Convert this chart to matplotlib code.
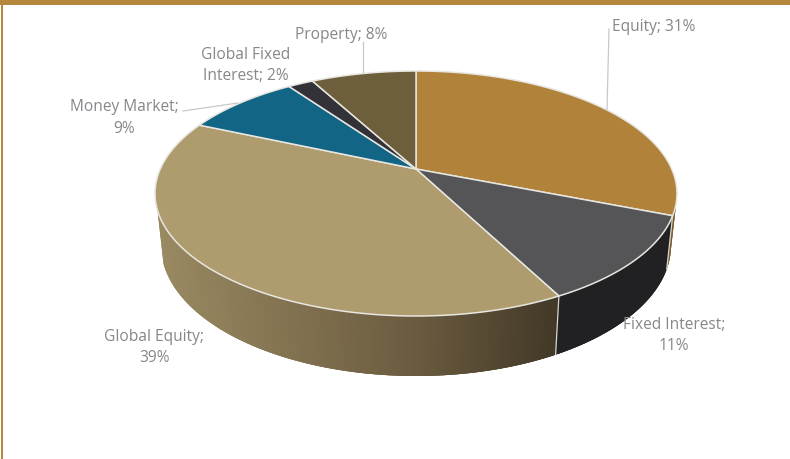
import numpy as np
import matplotlib
matplotlib.use("Agg")
import matplotlib.pyplot as plt
from matplotlib.collections import PolyCollection
from matplotlib.colors import to_rgb

# data (unrounded shares, the labels show them rounded)
categories = ["Equity", "Fixed Interest", "Global Equity", "Money Market", "Global Fixed Interest", "Property"]
shares = [31, 11.4, 39.2, 8.6, 1.9, 7.9]
top_colors = ["#b0823a", "#555557", "#ae9b6e", "#126585", "#333238", "#6e5f3c"]

# drawn labels, line breaks as in the chart
label_texts = ["Equity; 31%", "Fixed Interest;\n11%", "Global Equity;\n39%",
               "Money Market;\n9%", "Global Fixed\nInterest; 2%", "Property; 8%"]

plt.rcParams["font.family"] = ["Open Sans", "DejaVu Sans"]

fig = plt.figure(figsize=(7.9, 4.59), dpi=100)
ax = fig.add_axes([0, 0, 1, 1])
ax.set_xlim(0, 790)
ax.set_ylim(459, 0)
ax.axis("off")

# perspective of the disc: pixel position of an angle (clockwise from the top)
CX, CY = 416, 169
K = 0.2
A, B = 255.7, 117.6


def project(frac_angle, r=1.0):
    X = r * np.sin(frac_angle)
    Y = r * np.cos(frac_angle)
    w = 1 + K * Y
    return CX + A * X / w, CY - B * Y / w


def lower_rim(x, y):
    # same outline, pushed down for the bottom of the pie
    return CX + 0.977 * (x - CX), 219.3 + 1.066 * (y - CY)


edges = np.cumsum([0] + shares) / sum(shares) * 2 * np.pi


def side_color(i, x):
    if i == 0:
        return to_rgb("#7a5a2a")
    if i == 1:
        return to_rgb("#212123")
    # global equity wall fades from left to right
    left = np.array(to_rgb("#9a8a62"))
    mid = np.array(to_rgb("#6b5c40"))
    right = np.array(to_rgb("#433927"))
    if x < 416:
        return tuple(left + (mid - left) * (x - 157) / (416 - 157))
    return tuple(mid + (right - mid) * (x - 416) / (558 - 416))


# side wall, drawn from the left corner to the right corner.
# every strip runs a bit under the next one so no seams show up
side_start = np.radians(106)
side_end = np.radians(251)
ts = np.linspace(side_end, side_start, 300)
step = ts[1] - ts[0]
quads, cols = [], []
for t0, t1 in zip(ts[:-1], ts[1:]):
    i = np.searchsorted(edges, (t0 + t1) / 2) - 1
    t_far = max(t1 + 2 * step, side_start)
    x0, y0 = project(t0)
    x1, y1 = project(t_far)
    x2, y2 = lower_rim(x1, y1)
    x3, y3 = lower_rim(x0, y0)
    quads.append([(x0, y0), (x1, y1), (x2, y2), (x3, y3)])
    cols.append(side_color(i, (x0 + x1) / 2))
ax.add_collection(PolyCollection(quads, facecolors=cols, edgecolors="none", zorder=1))

# light seams between the wall segments
for e in edges[1:3]:
    x, y = project(e)
    xb, yb = lower_rim(x, y)
    ax.plot([x, xb], [y, yb], color="#d8d6d0", lw=0.9, zorder=2)

# top face
for i, col in enumerate(top_colors):
    t = np.linspace(edges[i], edges[i + 1], 120)
    px, py = project(t)
    pts = [(CX, CY)] + list(zip(px, py))
    ax.fill([p[0] for p in pts], [p[1] for p in pts], facecolor=col,
            edgecolor="#e8e6e0", lw=1.1, joinstyle="round", zorder=3)

# leader lines
leaders = [([609, 607], [29, 110]), ([363, 363], [42, 72]), ([183, 238], [111, 103])]
for lx, ly in leaders:
    ax.plot(lx, ly, color="#c8c8c8", lw=0.9, zorder=4)

# labels
label_x = [654, 674, 154, 124, 246, 341]
label_y = [27, 335.5, 347.5, 118, 65.5, 35]
for txt, x, y in zip(label_texts, label_x, label_y):
    ax.text(x, y, txt, ha="center", va="center", fontsize=11.2, color="#87878b",
            linespacing=1.48, zorder=5)

# frame of the page: gold band on top and on the left
ax.fill([0, 790, 790, 0], [0, 0, 5, 5], color="#b5873d", lw=0, zorder=6)
ax.fill([1, 3, 3, 1], [0, 0, 459, 459], color="#b5873d", lw=0, zorder=6)

fig.savefig("out.png", dpi=100)
